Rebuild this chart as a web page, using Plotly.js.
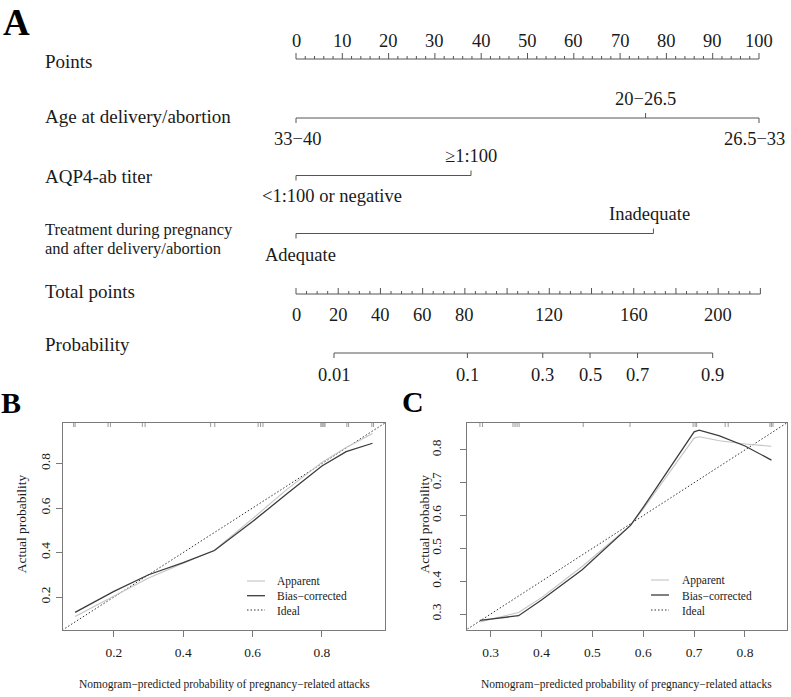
<!DOCTYPE html>
<html><head><meta charset="utf-8">
<script src="https://cdn.plot.ly/plotly-3.0.1.min.js"></script>
<style>html,body{margin:0;padding:0;background:#fff}</style>
</head><body><div id="chart" style="width:791px;height:697px"></div>
<script>
// ---------------- DATA ----------------
// Panel A: nomogram
const pointsTicks = [0,10,20,30,40,50,60,70,80,90,100];
const ageLevels = ['33−40','20−26.5','26.5−33'];
const agePoints = [0,75.5,100];
const aqpLevels = ['<1:100 or negative','≥1:100'];
const aqpPoints = [0,37.8];
const treatLevels = ['Adequate','Inadequate'];
const treatPoints = [0,77.2];
const totalTicks = [0,20,40,60,80,100,120,140,160,180,200,220];
const totalTickLabels = ['0','20','40','60','80','','120','','160','','200',''];
const probLabels = ['0.01','0.1','0.3','0.5','0.7','0.9'];
const probTotalPoints = [18.0,81.2,116.9,139.3,161.8,197.4];

// Panel B: calibration (training)
const bPred = [0.088,0.2,0.3,0.4,0.49,0.6,0.7,0.8,0.87,0.946];
const bBias = [0.131,0.225,0.300,0.355,0.409,0.539,0.665,0.789,0.853,0.891];
const bApparent = [0.112,0.205,0.285,0.352,0.410,0.552,0.685,0.805,0.872,0.935];
const bRug = [0.084,0.088,0.183,0.19,0.282,0.29,0.479,0.491,0.616,0.623,0.63,0.797,0.8,0.803,0.806,0.809,0.872,0.877,0.944,0.949];
const bTicks = [0.2,0.4,0.6,0.8];

// Panel C: calibration (validation)
const cPred = [0.279,0.355,0.4,0.48,0.575,0.6,0.7,0.71,0.75,0.8,0.852];
const cBias = [0.281,0.295,0.343,0.435,0.570,0.625,0.855,0.860,0.843,0.812,0.769];
const cApparent = [0.276,0.305,0.350,0.445,0.570,0.620,0.836,0.840,0.828,0.818,0.811];
const cRug = [0.279,0.284,0.344,0.348,0.352,0.356,0.482,0.574,0.698,0.702,0.705,0.761,0.767,0.849,0.852,0.855];
const cTicks = [0.3,0.4,0.5,0.6,0.7,0.8];

const legendNames = ['Apparent','Bias−corrected','Ideal'];

// ---------------- LAYOUT HELPERS ----------------
const W = 791, H = 697;
const FONT = 'Liberation Serif, Times New Roman, serif';
const px0 = 296, pxPerPoint = 4.63;          // points scale on the page
const totalToPoints = 100.3/220;             // total-points axis width vs points axis
const LC = '#555';
const DOT = '1.5px,2px';
const px = v => v / W;
const py = v => 1 - v / H;

const traces = [];
const annotations = [];
const shapes = [];

function segs(xs, y0s, y1s) {
  const X = [], Y = [];
  xs.forEach((x, i) => { X.push(x, x, null); Y.push(y0s[i], y1s[i], null); });
  return {X, Y};
}
function addLineTrace(X, Y, opts) {
  traces.push(Object.assign({type:'scatter', mode:'lines', x:X, y:Y,
    xaxis:'x', yaxis:'y', hoverinfo:'skip', showlegend:false,
    line:{color:LC, width:1}}, opts || {}));
}
function txt(text, x, y, o) {
  annotations.push(Object.assign({text, x, y, xref:'x', yref:'y', showarrow:false,
    xanchor:'center', yanchor:'middle',
    font:{family:FONT, size:18.5, color:'#1a1a1a'}}, o || {}));
}

// ---- Points axis ----
const yPts = 59;
addLineTrace([0,100],[yPts,yPts]);
{
  const minor = [];
  for (let p = 0; p <= 100; p += 2) minor.push(p);
  const s = segs(minor, minor.map(()=>yPts), minor.map(p => pointsTicks.includes(p) ? yPts-6 : yPts-3));
  addLineTrace(s.X, s.Y);
  pointsTicks.forEach(p => txt(String(p), p, 41));
}

// ---- factor rows ----
function factorRow(levels, pts, yLine, sides, shifts, yAbove, yBelow) {
  addLineTrace([Math.min(...pts), Math.max(...pts)], [yLine, yLine]);
  const s = segs(pts, pts.map(()=>yLine), sides.map(sd => sd > 0 ? yLine-5 : yLine+5));
  addLineTrace(s.X, s.Y);
  levels.forEach((lab, i) => txt(lab, pts[i], sides[i] > 0 ? yAbove : yBelow, {xshift: shifts[i]}));
}
factorRow(ageLevels, agePoints, 118, [-1, 1, -1], [1, 0, -5], 98.5, 139.3);
factorRow(aqpLevels, aqpPoints, 175.5, [-1, 1], [36, 0], 156, 196);
factorRow(treatLevels, treatPoints, 233.5, [-1, 1], [4, -4], 214, 255);

// ---- Total points axis ----
const yTot = 294;
addLineTrace([0, 220*totalToPoints], [yTot, yTot]);
{
  const minor = [];
  for (let t = 0; t <= 220; t += 5) minor.push(t);
  const s = segs(minor.map(t => t*totalToPoints), minor.map(()=>yTot),
                 minor.map(t => totalTicks.includes(t) ? yTot-6 : yTot-3));
  addLineTrace(s.X, s.Y);
  totalTicks.forEach((t, i) => { if (totalTickLabels[i]) txt(totalTickLabels[i], t*totalToPoints, 315); });
}

// ---- Probability axis ----
const yProb = 353;
{
  const xs = probTotalPoints.map(t => t*totalToPoints);
  addLineTrace([xs[0], xs[xs.length-1]], [yProb, yProb]);
  const s = segs(xs, xs.map(()=>yProb), xs.map(()=>yProb+5));
  addLineTrace(s.X, s.Y);
  probLabels.forEach((lab, i) => txt(lab, xs[i], 374.5));
}

// ---- row titles ----
function rowTitle(text, y, size) {
  annotations.push({text, x:px(43), y:py(y), xref:'paper', yref:'paper', showarrow:false,
    xanchor:'left', yanchor:'middle', font:{family:FONT, size:size||19, color:'#1a1a1a'}});
}
rowTitle('Points', 61);
rowTitle('Age at delivery/abortion', 117);
rowTitle('AQP4-ab titer', 176.5);
rowTitle('Treatment during pregnancy', 229.5, 16.5);
rowTitle('and after delivery/abortion', 248.5, 16.5);
rowTitle('Total points', 291);
rowTitle('Probability', 344);

// ---- panel letters ----
function letter(t, x, y, size) {
  annotations.push({text:'<b>'+t+'</b>', x:px(x), y:py(y), xref:'paper', yref:'paper', showarrow:false,
    xanchor:'left', yanchor:'middle', font:{family:FONT, size:size, color:'#000'}});
}
letter('A', 1, 23, 37);
letter('B', -1, 402, 30);
letter('C', 400, 401.5, 30);

// ---------------- CALIBRATION PANELS ----------------
function calibPanel(ax, pred, bias, app, rug, ticks, rng, frame, legendPos, yStandoff, titleX) {
  const xa = 'x'+ax, ya = 'y'+ax;
  const base = {type:'scatter', mode:'lines', xaxis:xa, yaxis:ya, hoverinfo:'skip', showlegend:false};
  traces.push(Object.assign({}, base, {x:[0,1], y:[0,1], line:{color:'#333', width:1, dash:DOT}}));
  traces.push(Object.assign({}, base, {x:pred, y:app, line:{color:'#c4c4c4', width:1.1}}));
  traces.push(Object.assign({}, base, {x:pred, y:bias, line:{color:'#3c3c3c', width:1.3}}));
  const top = rng[1], len = (rng[1]-rng[0]) * 4 / (frame.b - frame.t);
  const s = segs(rug, rug.map(()=>top), rug.map(()=>top-len));
  traces.push(Object.assign({}, base, {x:s.X, y:s.Y, line:{color:'#999', width:1}}));

  // legend
  const st = [{color:'#c4c4c4', width:1.1, dash:'solid'}, {color:'#3c3c3c', width:1.3, dash:'solid'}, {color:'#333', width:1, dash:DOT}];
  legendNames.forEach((nm, i) => {
    const yy = legendPos.y[i];
    shapes.push({type:'line', xref:'paper', yref:'paper', x0:px(legendPos.x0), x1:px(legendPos.x1),
      y0:py(yy), y1:py(yy), line:st[i]});
    annotations.push({text:nm, x:px(legendPos.tx), y:py(yy+0.5), xref:'paper', yref:'paper', showarrow:false,
      xanchor:'left', yanchor:'middle', font:{family:FONT, size:11.5, color:'#1a1a1a'}});
  });
  // axis titles
  annotations.push({text:'Actual probability', x:px(titleX), y:py((frame.t+frame.b)/2 - 2), xref:'paper', yref:'paper',
    showarrow:false, textangle:-90, xanchor:'center', yanchor:'middle', font:{family:FONT, size:13.5, color:'#1a1a1a'}});
  annotations.push({text:'Nomogram−predicted probability of pregnancy−related attacks', x:px((frame.l+frame.r)/2), y:py(684),
    xref:'paper', yref:'paper', showarrow:false, xanchor:'center', yanchor:'middle', font:{family:FONT, size:11.5, color:'#1a1a1a'}});

  const common = {showline:true, linecolor:'#7a7a7a', linewidth:1, mirror:true, showgrid:false, zeroline:false,
    ticks:'outside', ticklen:6, tickcolor:'#7a7a7a', tickmode:'array', tickvals:ticks,
    ticktext:ticks.map(t => String(t)), tickfont:{family:FONT, size:13.5, color:'#1a1a1a'}, range:rng, fixedrange:true};
  return {
    ['xaxis'+ax]: Object.assign({}, common, {domain:[px(frame.l), px(frame.r)], anchor:ya, ticklabelstandoff:4}),
    ['yaxis'+ax]: Object.assign({}, common, {domain:[py(frame.b), py(frame.t)], anchor:xa, tickangle:-90, ticklabelstandoff:yStandoff})
  };
}

const axB = calibPanel(2, bPred, bBias, bApparent, bRug, bTicks, [0.054, 0.982],
  {l:63.3, r:385, t:423, b:629.5}, {x0:247, x1:265, tx:275, y:[581, 595.7, 610]}, 1, 21);
const axC = calibPanel(3, cPred, cBias, cApparent, cRug, cTicks, [0.253, 0.882],
  {l:466.7, r:786.7, t:423, b:629.5}, {x0:651, x1:669, tx:680, y:[580, 595, 610]}, 13, 424.3);

const layout = Object.assign({
  width:W, height:H, margin:{l:0, r:0, t:0, b:0},
  paper_bgcolor:'#fff', plot_bgcolor:'rgba(0,0,0,0)', showlegend:false,
  xaxis:{domain:[0,1], range:[-px0/pxPerPoint, (W-px0)/pxPerPoint], visible:false, fixedrange:true},
  yaxis:{domain:[0,1], range:[H, 0], visible:false, fixedrange:true},
  annotations, shapes
}, axB, axC);

Plotly.newPlot('chart', traces, layout, {displayModeBar:false, staticPlot:true});
</script></body></html>
